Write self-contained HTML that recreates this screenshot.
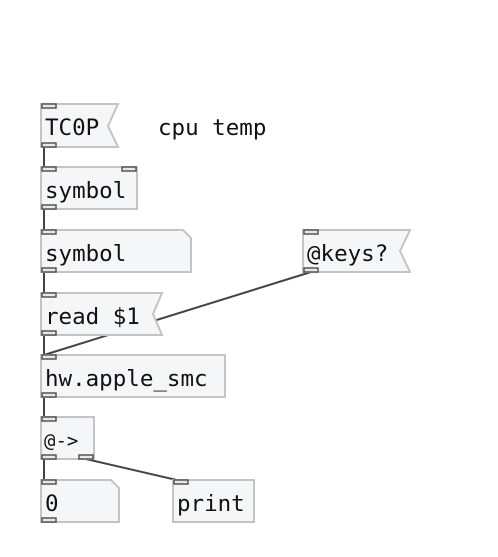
<!DOCTYPE html>
<html><head><meta charset="utf-8"><style>
html,body{margin:0;padding:0;background:#fff;width:498px;height:557px;overflow:hidden}
svg text{font-family:"DejaVu Sans Mono","Liberation Mono",monospace;font-size:22.5px;fill:#111}
</style></head><body>
<svg width="498" height="557" viewBox="0 0 498 557" xmlns="http://www.w3.org/2000/svg">
<g stroke="#444" stroke-width="2" fill="none">
<line x1="44" y1="147" x2="44" y2="168"/>
<line x1="44" y1="209" x2="44" y2="231"/>
<line x1="44" y1="272" x2="44" y2="294"/>
<line x1="44" y1="335" x2="44" y2="355"/>
<line x1="311" y1="272" x2="44" y2="355"/>
<line x1="44" y1="397" x2="44" y2="417"/>
<line x1="44" y1="459" x2="44" y2="481"/>
<line x1="86" y1="459" x2="181" y2="481"/>
</g>
<g fill="#f5f6f8" stroke="#c4c4c4" stroke-width="2">
<path d="M41 104 H118 L108 126 L118 147 H41 Z"/>
<rect x="41" y="167" width="96" height="42"/>
<path d="M41 230 H183 L191 238 V272 H41 Z"/>
<path d="M41 293 H162 L153 314 L162 335 H41 Z"/>
<rect x="41" y="355" width="184" height="42"/>
<rect x="41" y="417" width="53" height="42"/>
<path d="M41 480 H111 L119 488 V522 H41 Z"/>
<rect x="173" y="480" width="81" height="42"/>
<path d="M303 230 H410 L400 251 L410 272 H303 Z"/>
</g>
<g fill="#e8e8e8" stroke="#555" stroke-width="1.5">
<rect x="42" y="104" width="14" height="4"/><rect x="42" y="143" width="14" height="4"/>
<rect x="42" y="167" width="14" height="4"/><rect x="122" y="167" width="14" height="4"/><rect x="42" y="205" width="14" height="4"/>
<rect x="42" y="230" width="14" height="4"/><rect x="42" y="268" width="14" height="4"/>
<rect x="42" y="293" width="14" height="4"/><rect x="42" y="331" width="14" height="4"/>
<rect x="42" y="355" width="14" height="4"/><rect x="42" y="393" width="14" height="4"/>
<rect x="42" y="417" width="14" height="4"/><rect x="42" y="455" width="14" height="4"/><rect x="79" y="455" width="14" height="4"/>
<rect x="42" y="480" width="14" height="4"/><rect x="42" y="518" width="14" height="4"/>
<rect x="174" y="480" width="14" height="4"/>
<rect x="304" y="230" width="14" height="4"/><rect x="304" y="268" width="14" height="4"/>
</g>
<text x="45" y="135">TC0P</text>
<text x="158" y="135">cpu temp</text>
<text x="45" y="198">symbol</text>
<text x="45" y="261">symbol</text>
<text x="45" y="324">read $1</text>
<text x="45" y="386">hw.apple_smc</text>
<text x="44" y="447" style="font-size:19px">@-&gt;</text>
<text x="45" y="511">0</text>
<text x="177" y="511">print</text>
<text x="307" y="261">@keys?</text>
</svg>
</body></html>
